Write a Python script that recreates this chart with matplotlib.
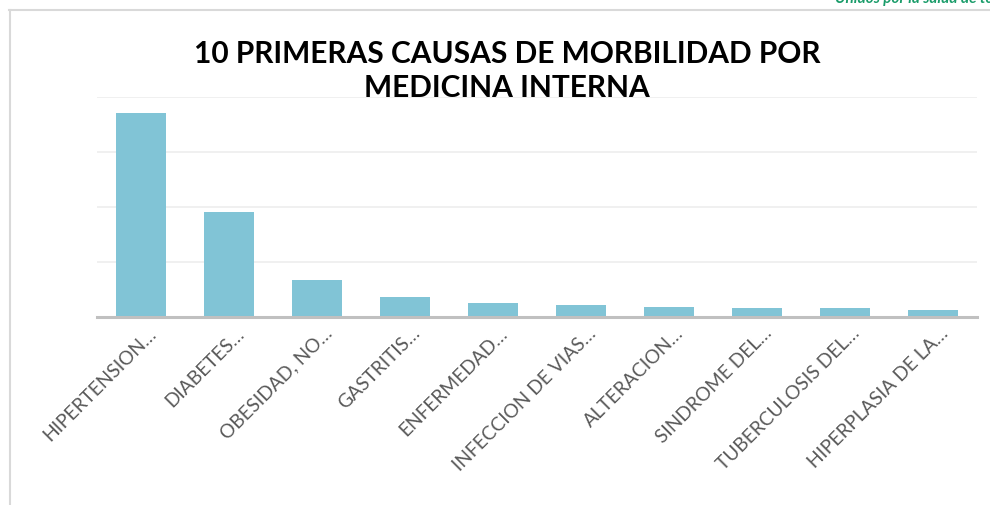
import numpy as np
import matplotlib.pyplot as plt
import matplotlib.transforms as mtransforms
from matplotlib.lines import Line2D

categories = ["HIPERTENSION\u2026", "DIABETES\u2026", "OBESIDAD, NO\u2026", "GASTRITIS\u2026",
              "ENFERMEDAD\u2026", "INFECCION DE VIAS\u2026", "ALTERACION\u2026",
              "SINDROME DEL\u2026", "TUBERCULOSIS DEL\u2026", "HIPERPLASIA DE LA\u2026"]
values = [1856, 950, 332, 177, 120, 105, 86, 77, 77, 56]
title = "10 PRIMERAS CAUSAS DE MORBILIDAD POR\nMEDICINA INTERNA"

W, H = 990, 505
fig = plt.figure(figsize=(W / 100, H / 100), dpi=100)
ax = fig.add_axes([97 / W, 1 - 316.5 / H, 880 / W, 219.8 / H])

x = np.arange(len(categories))
ax.bar(x, values, width=0.56, color="#81C4D6", zorder=2)
ax.set_xlim(-0.5, len(categories) - 0.5)
ax.set_ylim(0, 2000)
ax.set_yticks(np.arange(500, 2001, 500))
ax.yaxis.grid(True, color="#eeeeee", lw=1.2, zorder=0)
ax.tick_params(axis="y", left=False, labelleft=False)
ax.tick_params(axis="x", length=0, pad=3)
for s in ["top", "right", "left"]:
    ax.spines[s].set_visible(False)
ax.spines["bottom"].set_color("#c0c0c0")
ax.spines["bottom"].set_linewidth(2.2)

ax.set_xticks(x)
ax.set_xticklabels(categories, rotation=45, ha="right", rotation_mode="anchor",
                   fontsize=13.8, color="#595959", family="Lato")
off = mtransforms.ScaledTranslation(6 / 100, -4 / 100, fig.dpi_scale_trans)
for lab in ax.get_xticklabels():
    lab.set_transform(lab.get_transform() + off)

fig.text(0.512, 1 - 71 / H, title, ha="center", va="center", fontsize=21.5,
         fontweight="bold", family="Lato", color="black", linespacing=1.25)

# chart frame
fig.add_artist(Line2D([8.5 / W, 1], [1 - 9.5 / H] * 2, color="#d9d9d9", lw=1.5))
fig.add_artist(Line2D([9.5 / W] * 2, [0, 1 - 9.5 / H], color="#d9d9d9", lw=1.5))

fig.text(835 / W, 1 - 3 / H, "Unidos por la salud de todos", ha="left",
         va="baseline", fontsize=11, style="italic", fontweight="bold",
         color="#1a9c6a", family="Lato")

fig.savefig("out.png", dpi=100)
